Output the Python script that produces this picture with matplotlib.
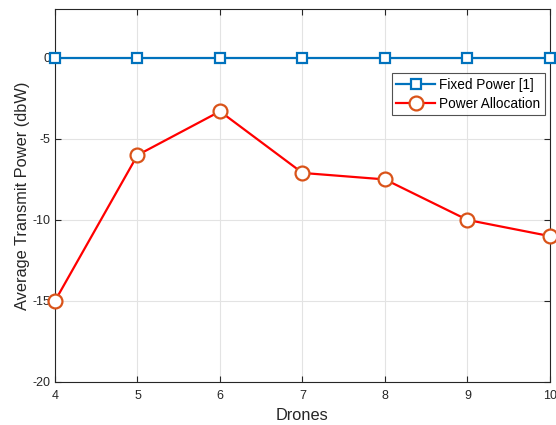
import matplotlib
matplotlib.use("Agg")
import matplotlib.pyplot as plt

drones = [4, 5, 6, 7, 8, 9, 10]
fixed_power = [0, 0, 0, 0, 0, 0, 0]
power_alloc = [-15, -6, -3.3, -7.1, -7.5, -10, -11]
yticks = [-20, -15, -10, -5, 0]

plt.rcParams['font.family'] = ['Liberation Sans', 'DejaVu Sans']

fig = plt.figure(figsize=(5.56, 4.25), dpi=100)
ax = fig.add_axes([0.0989, 0.1012, 0.8903, 0.877])

ax.plot(drones, fixed_power, color='#0072BD', lw=1.6, marker='s', ms=6.5,
        mfc='white', mec='#0072BD', mew=1.6, label='Fixed Power [1]', clip_on=False, zorder=5)
ax.plot(drones, power_alloc, color='#FF0000', lw=1.6, marker='o', ms=10,
        mfc='white', mec='#D95319', mew=1.6, label='Power Allocation', clip_on=False, zorder=5)

ax.set_xlim(4, 10)
ax.set_ylim(-20, 3)
ax.set_xticks(drones)
ax.set_yticks(yticks)
ax.set_yticklabels([str(v) for v in yticks])
ax.grid(True, color='#e3e3e3', lw=0.8)
ax.set_axisbelow(True)
ax.tick_params(direction='in', top=True, right=True, labelsize=9, colors='#262626', length=4)
ax.tick_params(axis='x', pad=6)
ax.tick_params(axis='y', pad=3)
for s in ax.spines.values():
    s.set_color('#262626')
    s.set_linewidth(0.8)
ax.set_xlabel('Drones', fontsize=11.8, color='#262626', labelpad=4)
ax.set_ylabel('Average Transmit Power (dbW)', fontsize=11.8, color='#262626', labelpad=2)

leg = ax.legend(loc='upper right', bbox_to_anchor=(0.989, 0.829), fontsize=9.8, frameon=True,
                fancybox=False, edgecolor='#262626', borderpad=0.35, handlelength=2.8,
                labelspacing=0.35, handletextpad=0.3, borderaxespad=0)
leg.get_frame().set_linewidth(0.8)

fig.savefig('out.png', dpi=100)
